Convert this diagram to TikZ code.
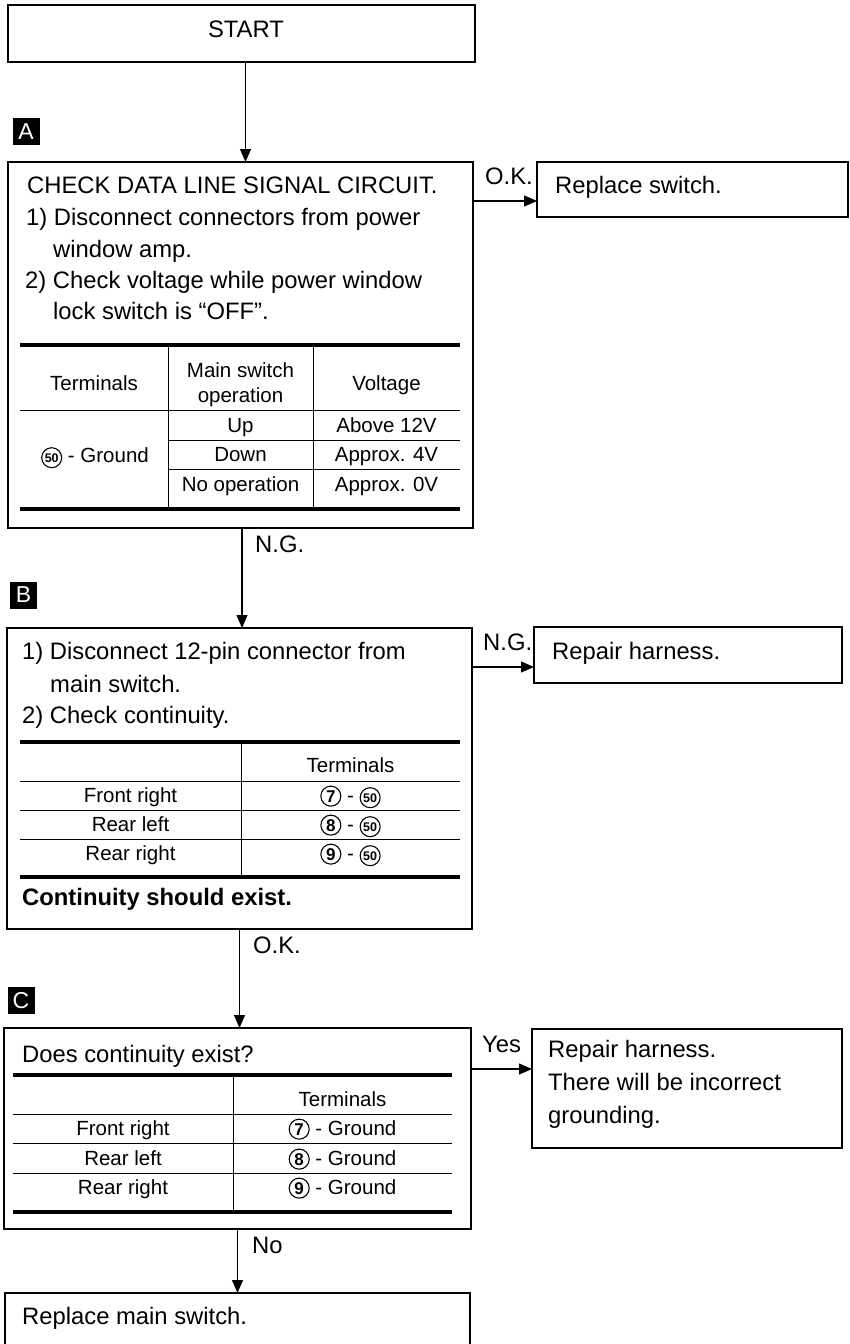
\documentclass[tikz,border=0pt]{standalone}
\usepackage{fontspec}
\setmainfont{Liberation Sans}
\usetikzlibrary{arrows.meta, positioning}

% text sizes
\newcommand{\bigtxt}{\fontsize{23.8}{31.5}\selectfont}
\newcommand{\tabtxt}{\fontsize{20.5}{26}\selectfont}
% circled terminal numbers
\newcommand{\cnum}[1]{\tikz[baseline=(cn.base)]\node[circle, draw, line width=1.1pt, inner sep=0pt, minimum size=20pt, font=\fontsize{17}{17}\selectfont\bfseries] (cn) {#1};}
\newcommand{\cfifty}{\tikz[baseline=(cn.base)]\node[circle, draw, line width=1.1pt, inner sep=0pt, minimum size=20pt, font=\fontsize{12.5}{12.5}\selectfont\bfseries] (cn) {50};}

\begin{document}
\begin{tikzpicture}[x=1pt, y=-1pt,
  box/.style={draw, line width=1.2pt, inner sep=0pt, outer sep=0pt, anchor=north west},
  txt/.style={anchor=base west, inner sep=0pt, font=\bigtxt},
  tab/.style={anchor=base, inner sep=0pt, font=\tabtxt},
  tag/.style={fill=black, text=white, minimum size=27pt, inner sep=0pt, font=\fontsize{23}{23}\selectfont},
  arr/.style={-{Triangle[length=13pt, width=11pt]}, line width=1.1pt},
  heavyrule/.style={line width=3.5pt},
  thinrule/.style={line width=0.9pt}]
  \useasboundingbox (0,0) rectangle (849,1344);
  \clip (0,0) rectangle (849,1344);

  % main column
  \node[box, minimum width=467pt, minimum height=57pt] (start) at (8,5) {};
  \node[box, minimum width=465pt, minimum height=366pt] (boxA) at (8,162) {};
  \node[box, minimum width=465pt, minimum height=301pt] (boxB) at (7,628) {};
  \node[box, minimum width=467pt, minimum height=201pt] (boxC) at (4,1028) {};
  \node[box, minimum width=465pt, minimum height=60pt] (fin) at (5,1293) {};
  % right column
  \node[box, minimum width=311pt, minimum height=55pt] (rep1) at (537,162) {};
  \node[box, minimum width=308pt, minimum height=56pt] (rep2) at (534,627) {};
  \node[box, minimum width=310pt, minimum height=119pt] (rep3) at (532,1029) {};

  \node[tag] (tagA) at (26,131.5) {A};
  \node[tag] (tagB) at (23.5,595) {B};
  \node[tag] (tagC) at (21,1000.5) {C};

  \node[txt, anchor=base] (tstart) at (246,37) {START};

  % step A
  \node[txt] (a1) at (27,193) {CHECK DATA LINE SIGNAL CIRCUIT.};
  \node[txt] (a2) at (26,225) {1) Disconnect connectors from power};
  \node[txt] (a3) at (53,257) {window amp.};
  \node[txt] (a4) at (25,288) {2) Check voltage while power window};
  \node[txt] (a5) at (53,319) {lock switch is “OFF”.};
  \draw[heavyrule] (20,345) -- (460,345) (20,509) -- (460,509);
  \draw[thinrule] (20,410) -- (460,410) (168,440) -- (460,440) (168,469) -- (460,469)
    (168,345) -- (168,509) (313,345) -- (313,509);
  \node[tab] (ah1) at (94,390) {Terminals};
  \node[tab] (ah2) at (240.5,377) {Main switch};
  \node[tab] (ah3) at (240.5,402) {operation};
  \node[tab] (ah4) at (386.5,390) {Voltage};
  \node[tab] (aterm) at (95,462) {\cfifty{} - Ground};
  \foreach \y/\op/\v [count=\i] in {432/Up/Above 12V, 461/Down/Approx. 4V, 491/No operation/Approx. 0V} {
    \node[tab] (aop\i) at (240.5,\y) {\op};
    \node[tab] (av\i) at (386.5,\y) {\v};
  }

  % step B
  \node[txt] (b1) at (22,659) {1) Disconnect 12-pin connector from};
  \node[txt] (b2) at (50,692) {main switch.};
  \node[txt] (b3) at (22,723) {2) Check continuity.};
  \draw[heavyrule] (20,742) -- (460,742) (20,877) -- (460,877);
  \draw[thinrule] (20,781) -- (460,781) (20,810) -- (460,810) (20,839) -- (460,839)
    (241,742) -- (241,877);
  \node[tab] (bh) at (350.5,772) {Terminals};
  \foreach \y/\side/\n in {802/Front right/7, 831/Rear left/8, 860/Rear right/9} {
    \node[tab] (bl\n) at (130.5,\y) {\side};
    \node[tab] (br\n) at (350.5,\y) {\cnum{\n} - \cfifty};
  }
  \node[txt, font=\bigtxt\bfseries] (b4) at (22,905) {Continuity should exist.};

  % step C
  \node[txt] (c1) at (22,1062) {Does continuity exist?};
  \draw[heavyrule] (13,1075) -- (452,1075) (13,1212) -- (452,1212);
  \draw[thinrule] (13,1114) -- (452,1114) (13,1143) -- (452,1143) (13,1173) -- (452,1173)
    (233,1075) -- (233,1212);
  \node[tab] (ch) at (342.5,1106) {Terminals};
  \foreach \y/\side/\n in {1135/Front right/7, 1165/Rear left/8, 1194/Rear right/9} {
    \node[tab] (cl\n) at (123,\y) {\side};
    \node[tab] (cr\n) at (342.5,\y) {\cnum{\n} - Ground};
  }

  % results
  \node[txt] (r1) at (555,193) {Replace switch.};
  \node[txt] (r2) at (552,659) {Repair harness.};
  \node[txt] (r3a) at (548,1057) {Repair harness.};
  \node[txt] (r3b) at (548,1090) {There will be incorrect};
  \node[txt] (r3c) at (548,1123) {grounding.};
  \node[txt] (f1) at (22,1324) {Replace main switch.};

  % connectors
  \draw[arr] ([xshift=4pt]start.south) -- ([xshift=4pt]start.south |- boxA.north);
  \draw[arr] ([xshift=1.5pt]boxA.south) -- ([xshift=1.5pt]boxA.south |- boxB.north);
  \draw[arr] (boxB.south) -- (boxB.south |- boxC.north);
  \draw[arr] (boxC.south) -- (boxC.south |- fin.north);
  \draw[arr] ([yshift=-39pt]boxA.north east) -- ([yshift=-39pt]boxA.north east -| rep1.west);
  \draw[arr] ([yshift=-39pt]boxB.north east) -- ([yshift=-39pt]boxB.north east -| rep2.west);
  \draw[arr] ([yshift=-41pt]boxC.north east) -- ([yshift=-41pt]boxC.north east -| rep3.west);

  \node[txt] (lokA) at (485,184) {O.K.};
  \node[txt] (lngB) at (483,650) {N.G.};
  \node[txt] (lyes) at (482,1052) {Yes};
  \node[txt] (lngA) at (255,552) {N.G.};
  \node[txt] (lokB) at (253,953) {O.K.};
  \node[txt] (lno) at (252,1253) {No};
\end{tikzpicture}
\end{document}
